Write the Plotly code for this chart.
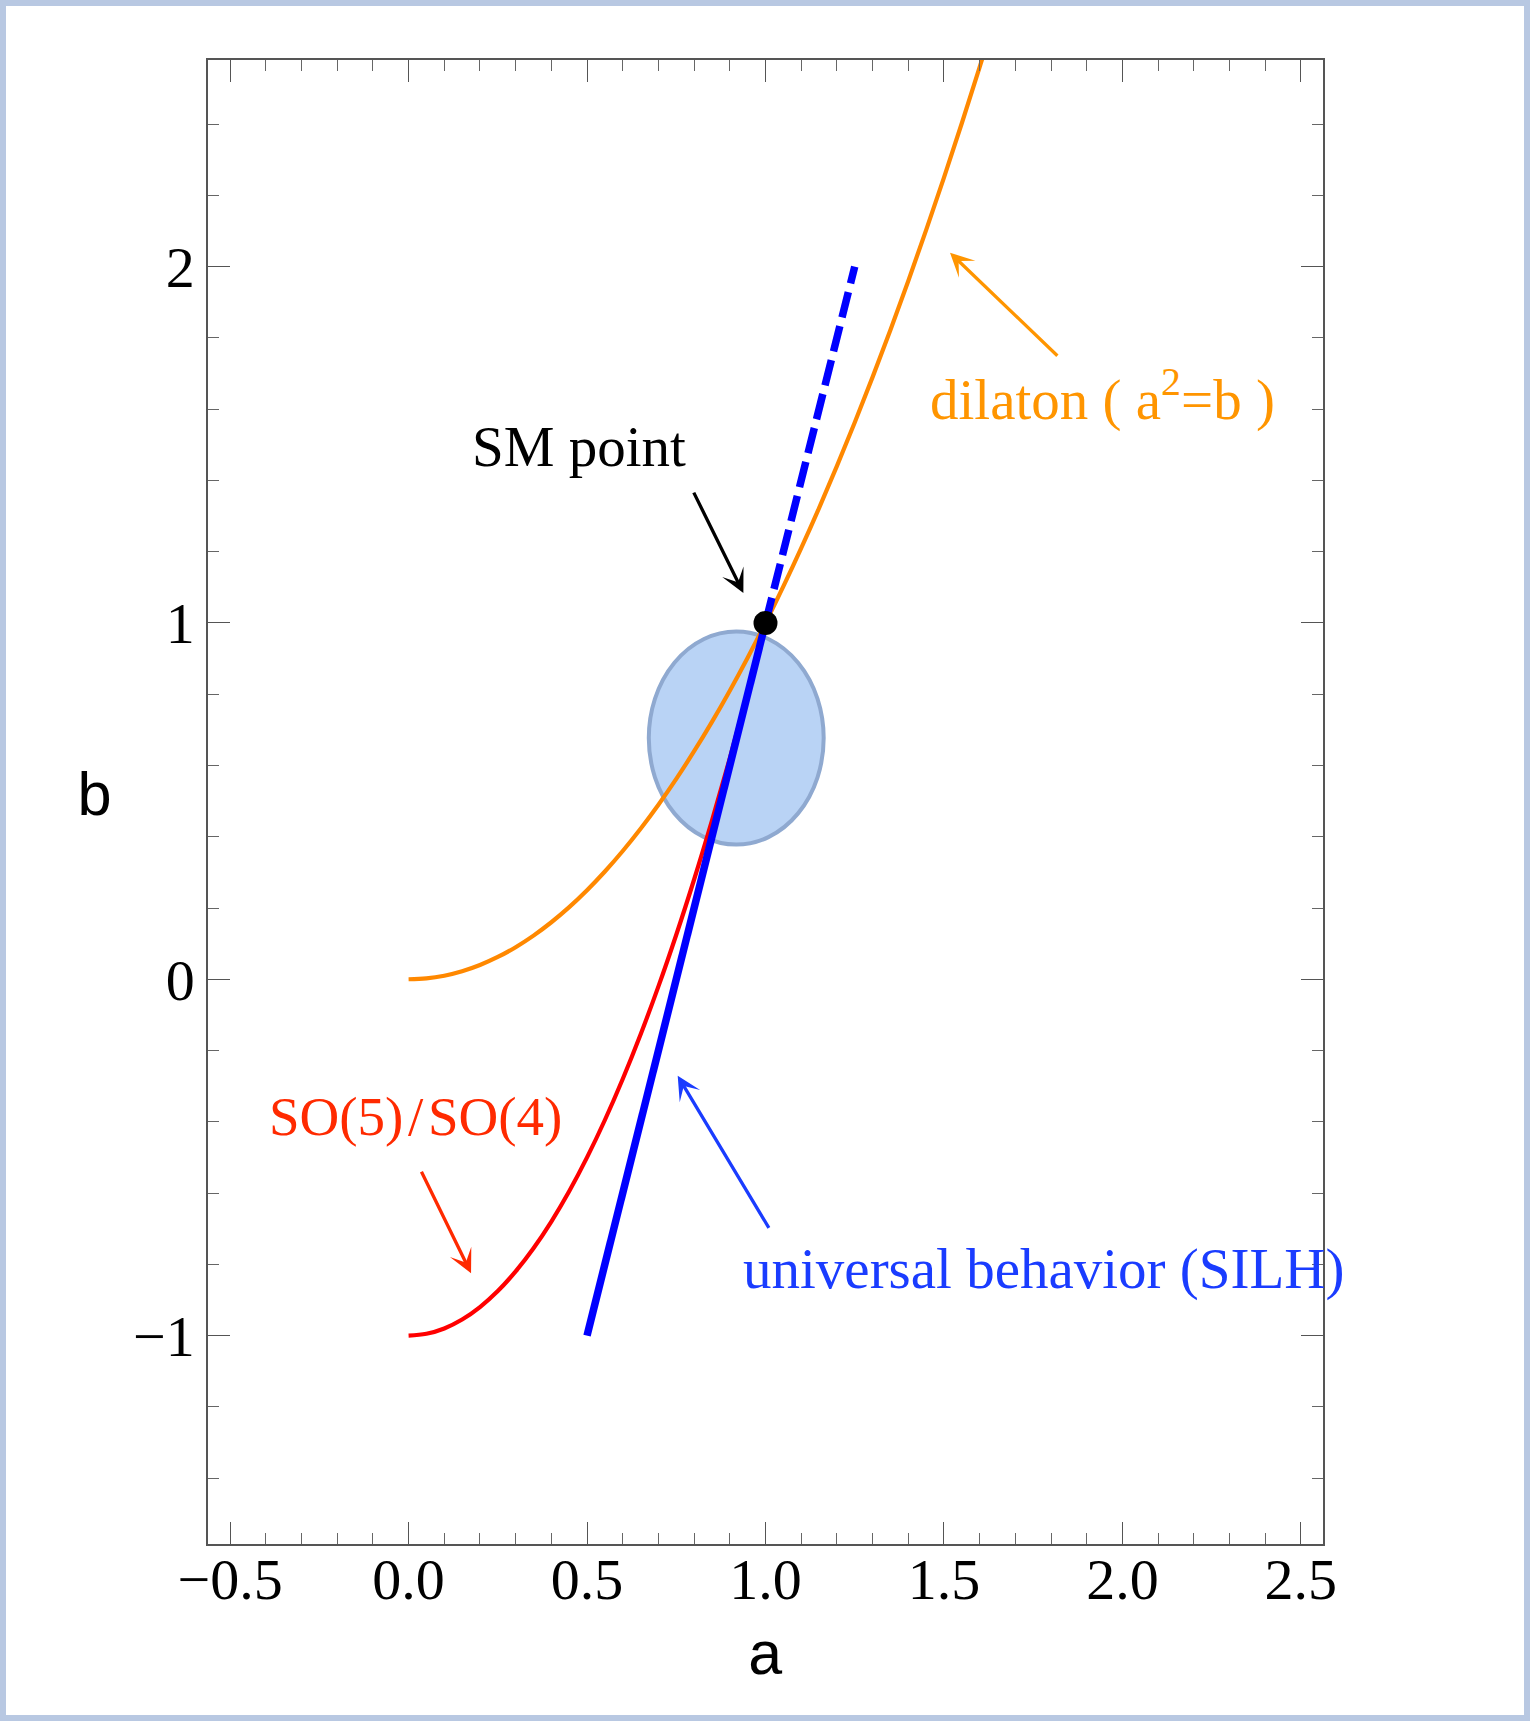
import plotly.graph_objects as go

# ---- data ----
a_dilaton = [0.0, 0.05, 0.1, 0.15, 0.2, 0.25, 0.3, 0.35, 0.4, 0.45, 0.5, 0.55, 0.6, 0.65, 0.7, 0.75, 0.8, 0.85,
             0.9, 0.95, 1.0, 1.05, 1.1, 1.15, 1.2, 1.25, 1.3, 1.35, 1.4, 1.45, 1.5, 1.55, 1.6, 1.65, 1.7]
b_dilaton = [0.0, 0.0025, 0.01, 0.0225, 0.04, 0.0625, 0.09, 0.1225, 0.16, 0.2025, 0.25, 0.3025, 0.36, 0.4225,
             0.49, 0.5625, 0.64, 0.7225, 0.81, 0.9025, 1.0, 1.1025, 1.21, 1.3225, 1.44, 1.5625, 1.69, 1.8225,
             1.96, 2.1025, 2.25, 2.4025, 2.56, 2.7225, 2.89]

a_so54 = [0.0, 0.05, 0.1, 0.15, 0.2, 0.25, 0.3, 0.35, 0.4, 0.45, 0.5, 0.55, 0.6, 0.65, 0.7, 0.75, 0.8, 0.85,
          0.9, 0.95, 1.0]
b_so54 = [-1.0, -0.995, -0.98, -0.955, -0.92, -0.875, -0.82, -0.755, -0.68, -0.595, -0.5, -0.395, -0.28,
          -0.155, -0.02, 0.125, 0.28, 0.445, 0.62, 0.805, 1.0]

a_silh_solid = [0.5, 1.0]
b_silh_solid = [-1.0, 1.0]
a_silh_dash = [1.0, 1.25]
b_silh_dash = [1.0, 2.0]

sm_point_a = [1.0]
sm_point_b = [1.0]

ellipse_center = (0.918, 0.677)
ellipse_semi = (0.245, 0.299)

x_range = [-0.562, 2.562]
y_range = [-1.585, 2.58]

# annotations: (text, a, b, color, size)
labels = [
    ("SM point", 0.477, 1.494, "black", 57),
    ("dilaton ( a<sup>2</sup>=b )", 1.945, 1.638, "#ff9500", 57),
    ("SO(5)\u200a/\u200aSO(4)", 0.018, -0.385, "#ff2a00", 55),
    ("universal behavior (SILH)", 1.778, -0.813, "#1a3cff", 57),
]
# arrows: (head_a, head_b, tail_a, tail_b, color)
arrows = [
    (0.938, 1.084, 0.797, 1.370, "black"),
    (1.517, 2.039, 1.822, 1.746, "#ff9500"),
    (0.175, -0.825, 0.034, -0.536, "#ff2a00"),
    (0.754, -0.271, 1.012, -0.702, "#1a3cff"),
]

W, H = 1530, 1721
ML, MR, MT, MB = 208, 207, 60, 177
PW, PH = W - ML - MR, H - MT - MB

fig = go.Figure()

fig.add_trace(go.Scatter(x=a_so54, y=b_so54, mode="lines", line=dict(color="#ff0000", width=4.2, shape="spline"),
                         showlegend=False, hoverinfo="skip"))
fig.add_trace(go.Scatter(x=a_dilaton, y=b_dilaton, mode="lines", line=dict(color="#ff8800", width=4.2, shape="spline"),
                         showlegend=False, hoverinfo="skip"))
fig.add_trace(go.Scatter(x=a_silh_solid, y=b_silh_solid, mode="lines", line=dict(color="#0000ff", width=7.5),
                         showlegend=False, hoverinfo="skip"))
fig.add_trace(go.Scatter(x=a_silh_dash, y=b_silh_dash, mode="lines", line=dict(color="#0000ff", width=7.5, dash="26px,9px"),
                         showlegend=False, hoverinfo="skip"))
fig.add_trace(go.Scatter(x=sm_point_a, y=sm_point_b, mode="markers", marker=dict(color="black", size=24),
                         showlegend=False, hoverinfo="skip"))

cx, cy = ellipse_center
rx, ry = ellipse_semi
fig.add_shape(type="circle", xref="x", yref="y", x0=cx - rx, x1=cx + rx, y0=cy - ry, y1=cy + ry,
              fillcolor="#b9d3f5", line=dict(color="#8fa9d0", width=4), layer="below")

# outer frame
def px_x(p):
    return (p - ML) / PW
def px_y(p):
    return (H - MB - p) / PH
fig.add_shape(type="rect", xref="paper", yref="paper", x0=px_x(3), x1=px_x(1527), y0=px_y(1718), y1=px_y(3),
              line=dict(color="#b8c8e2", width=6), fillcolor="rgba(0,0,0,0)")

ann_font = "Liberation Serif"
for text, xa, yb, col, sz in labels:
    fig.add_annotation(x=xa, y=yb, xref="x", yref="y", text=text, showarrow=False,
                       xanchor="center", yanchor="middle",
                       font=dict(family=ann_font, size=sz, color=col))
for hx, hy, tx, ty, col in arrows:
    fig.add_annotation(x=hx, y=hy, ax=tx, ay=ty, xref="x", yref="y", axref="x", ayref="y", text="",
                       showarrow=True, arrowhead=3, arrowsize=1.2, arrowwidth=3.3, arrowcolor=col, standoff=0,
                       startstandoff=0)

# axis labels
fig.add_annotation(x=1.0, y=px_y(1657), xref="x", yref="paper", text="a", showarrow=False,
                   xanchor="center", yanchor="middle",
                   font=dict(family="Liberation Mono", size=62, color="black"))
fig.add_annotation(x=px_x(94), y=0.508, xref="paper", yref="y", text="b", showarrow=False,
                   xanchor="center", yanchor="middle",
                   font=dict(family="Liberation Mono", size=62, color="black"))

tickfont = dict(family="Liberation Serif", size=58, color="black")
fig.update_xaxes(range=x_range, showgrid=False, zeroline=False, showline=True, linecolor="#555", linewidth=1.5,
                 mirror="allticks", ticks="inside", ticklen=22, tickwidth=1.3, tickcolor="#555",
                 tick0=0, dtick=0.5, tickformat=".1f", tickfont=tickfont, ticklabelstandoff=-16,
                 minor=dict(dtick=0.1, tick0=0, ticks="inside", ticklen=11, tickwidth=1.2, tickcolor="#666"))
fig.update_yaxes(range=y_range, showgrid=False, zeroline=False, showline=True, linecolor="#555", linewidth=1.5,
                 mirror="allticks", ticks="inside", ticklen=22, tickwidth=1.3, tickcolor="#555",
                 tick0=0, dtick=1, tickfont=tickfont,
                 minor=dict(dtick=0.2, tick0=0, ticks="inside", ticklen=11, tickwidth=1.2, tickcolor="#666"))

fig.update_layout(width=W, height=H, margin=dict(l=ML, r=MR, t=MT, b=MB), plot_bgcolor="white",
                  paper_bgcolor="white", showlegend=False)

fig.write_html("out.html")
